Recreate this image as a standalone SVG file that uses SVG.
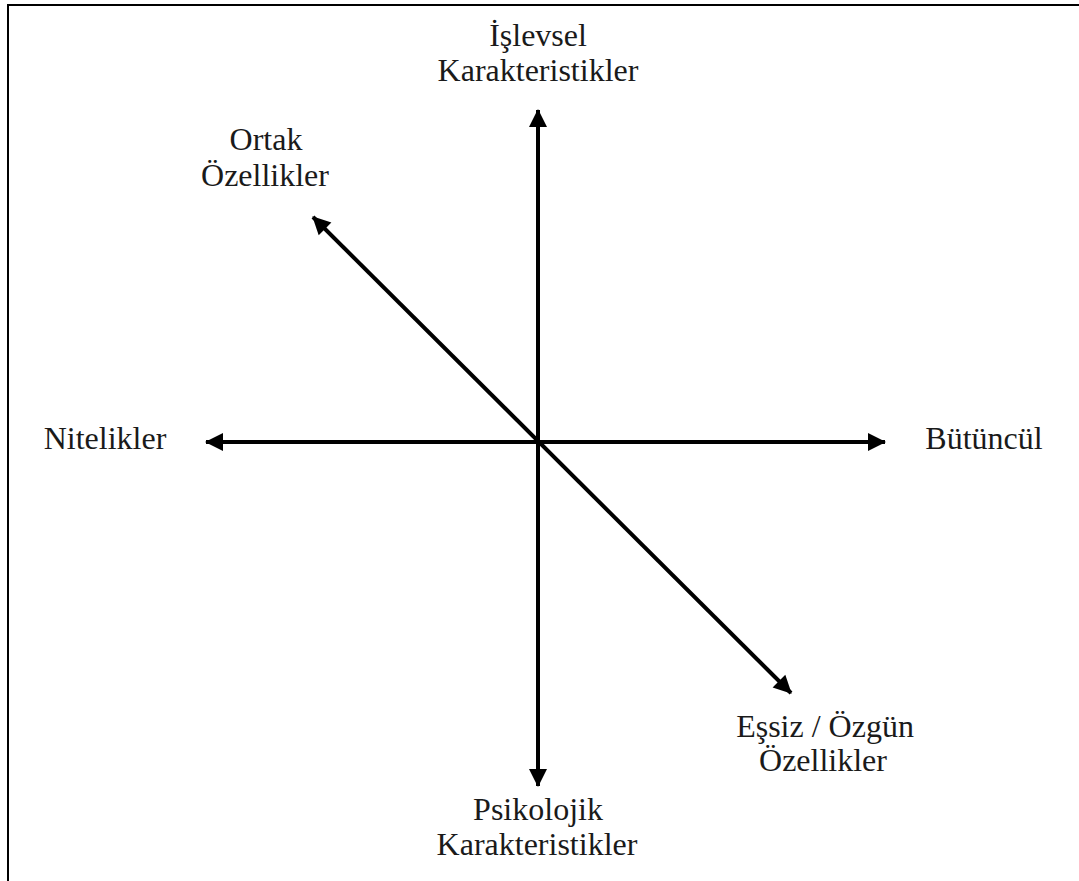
<svg xmlns="http://www.w3.org/2000/svg" width="1079" height="881" viewBox="0 0 1079 881">
<style>
.lbl{font-family:"Liberation Serif","Times New Roman",serif;font-size:32px;fill:#1a1a1a;text-anchor:middle}
.ax{stroke:#000;stroke-width:4;fill:none;marker-start:url(#ah);marker-end:url(#ah)}
</style>
<defs>
<marker id="ah" markerUnits="userSpaceOnUse" markerWidth="20" markerHeight="20" viewBox="0 0 20 20" refX="18" refY="10" orient="auto-start-reverse">
<path d="M1,1 L19,10 L1,19 z" fill="#000"/>
</marker>
</defs>
<rect width="1079" height="881" fill="#fff"/>
<path d="M8,881 V5 H1079" stroke="#000" stroke-width="2" fill="none"/>
<g id="connectors">
<line class="ax" x1="538" y1="786" x2="538" y2="110"/>
<line class="ax" x1="206" y1="442" x2="885" y2="442"/>
<line class="ax" x1="313" y1="217" x2="791" y2="693"/>
</g>
<g id="islevsel"><text class="lbl" x="538" y="46">İşlevsel</text><text class="lbl" x="538" y="81">Karakteristikler</text></g>
<g id="ortak"><text class="lbl" x="266" y="150">Ortak</text><text class="lbl" x="265" y="186">Özellikler</text></g>
<g id="nitelikler"><text class="lbl" x="105" y="449">Nitelikler</text></g>
<g id="butuncul"><text class="lbl" x="984" y="449">Bütüncül</text></g>
<g id="essiz"><text class="lbl" x="825" y="737">Eşsiz / Özgün</text><text class="lbl" x="823" y="771">Özellikler</text></g>
<g id="psikolojik"><text class="lbl" x="538" y="820">Psikolojik</text><text class="lbl" x="537" y="855">Karakteristikler</text></g>
</svg>
